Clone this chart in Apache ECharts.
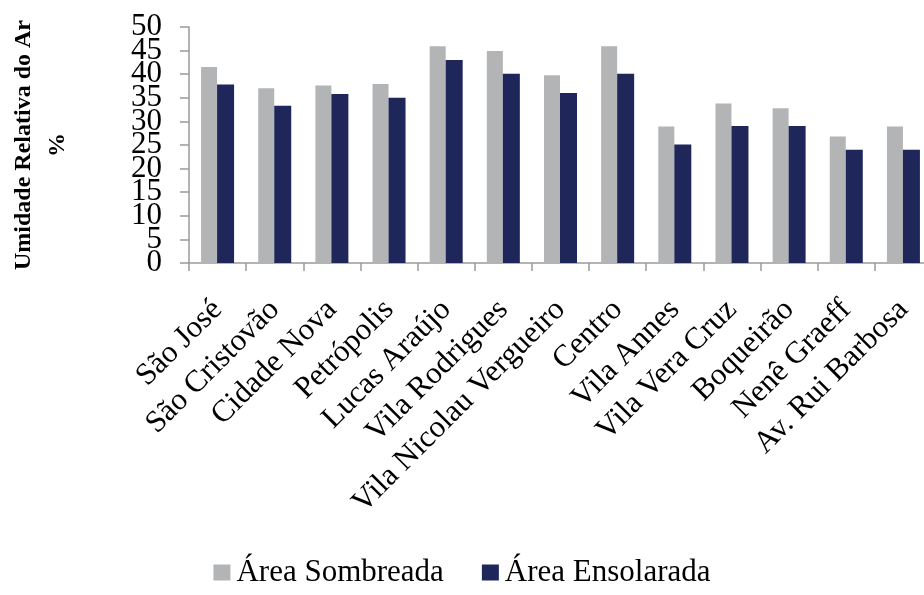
<!DOCTYPE html>
<html>
<head>
<meta charset="utf-8">
<style>
  html, body { margin: 0; padding: 0; background: #ffffff; }
  #chart { width: 924px; height: 595px; }
</style>
<script src="https://cdn.jsdelivr.net/npm/echarts@6/dist/echarts.min.js"></script>
</head>
<body>
<div id="chart"></div>
<script>
// Bairros avaliados
const bairros = [
  'São José', 'São Cristovão', 'Cidade Nova', 'Petrópolis', 'Lucas Araújo',
  'Vila Rodrigues', 'Vila Nicolau Vergueiro', 'Centro', 'Vila Annes',
  'Vila Vera Cruz', 'Boqueirão', 'Nenê Graeff', 'Av. Rui Barbosa'
];

// Umidade relativa do ar (%)
const areaSombreada = [41.5, 37.0, 37.6, 37.9, 45.9, 44.9, 39.8, 45.9, 28.9, 33.8, 32.8, 26.8, 28.9];
const areaEnsolarada = [37.8, 33.3, 35.8, 35.0, 43.0, 40.1, 36.0, 40.1, 25.1, 29.0, 29.0, 24.0, 24.0];

// Rótulos do eixo Y, divididos em dois grupos para não se sobreporem
const yTicksA = [0, 10, 20, 30, 40, 50];
const yTicksB = [5, 15, 25, 35, 45];
const yMin = 0, yMax = 50, yStep = 5;

const serif = 'Liberation Serif';
const axisGray = '#9a9a9a';

const yLabelStyle = {
  margin: 27,
  showMinLabel: true,
  showMaxLabel: true,
  hideOverlap: false,
  fontFamily: serif,
  fontSize: 31,
  color: '#000000'
};

const chart = echarts.init(document.getElementById('chart'), null, { renderer: 'canvas' });

chart.setOption({
  animation: false,
  backgroundColor: '#ffffff',
  textStyle: { fontFamily: serif, color: '#000000' },
  legend: {
    bottom: 2,
    left: 'center',
    itemWidth: 17,
    itemHeight: 16,
    itemGap: 38,
    icon: 'rect',
    textStyle: { fontFamily: serif, fontSize: 31, color: '#000000', padding: [0, 0, 0, 1] },
    data: ['Área Sombreada', 'Área Ensolarada']
  },
  grid: {
    left: 189, right: -8, top: 27, bottom: 332,
    containLabel: false,
    outerBoundsMode: 'none'
  },
  xAxis: {
    type: 'category',
    data: bairros,
    axisLine: { lineStyle: { color: axisGray, width: 1.5 } },
    axisTick: { show: true, length: 8, lineStyle: { color: axisGray, width: 1.5 } },
    axisLabel: {
      interval: 0,
      rotate: 45,
      margin: 42,
      hideOverlap: false,
      fontFamily: serif,
      fontSize: 31,
      color: '#000000'
    }
  },
  yAxis: [
    {
      type: 'value',
      min: yMin,
      max: yMax,
      interval: yStep,
      splitLine: { show: false },
      axisLine: { show: true, lineStyle: { color: axisGray, width: 1.5 } },
      axisTick: { show: true, length: 9, lineStyle: { color: axisGray, width: 1.5 } },
      axisLabel: Object.assign({ customValues: yTicksA }, yLabelStyle),
      name: 'Umidade Relativa do Ar\n%',
      nameLocation: 'middle',
      nameRotate: 90,
      nameGap: 114,
      nameTextStyle: {
        fontFamily: serif,
        fontWeight: 'bold',
        fontSize: 24,
        lineHeight: 34,
        color: '#000000',
        align: 'center'
      }
    },
    {
      type: 'value',
      position: 'left',
      min: yMin,
      max: yMax,
      interval: yStep,
      splitLine: { show: false },
      axisLine: { show: false },
      axisTick: { show: false },
      axisLabel: Object.assign({ customValues: yTicksB }, yLabelStyle)
    }
  ],
  series: [
    {
      name: 'Área Sombreada',
      type: 'bar',
      data: areaSombreada,
      barWidth: 16,
      barGap: '0%',
      itemStyle: { color: '#b3b4b6' }
    },
    {
      name: 'Área Ensolarada',
      type: 'bar',
      data: areaEnsolarada,
      barWidth: 17,
      itemStyle: { color: '#1f275a' }
    }
  ]
});
</script>
</body>
</html>
